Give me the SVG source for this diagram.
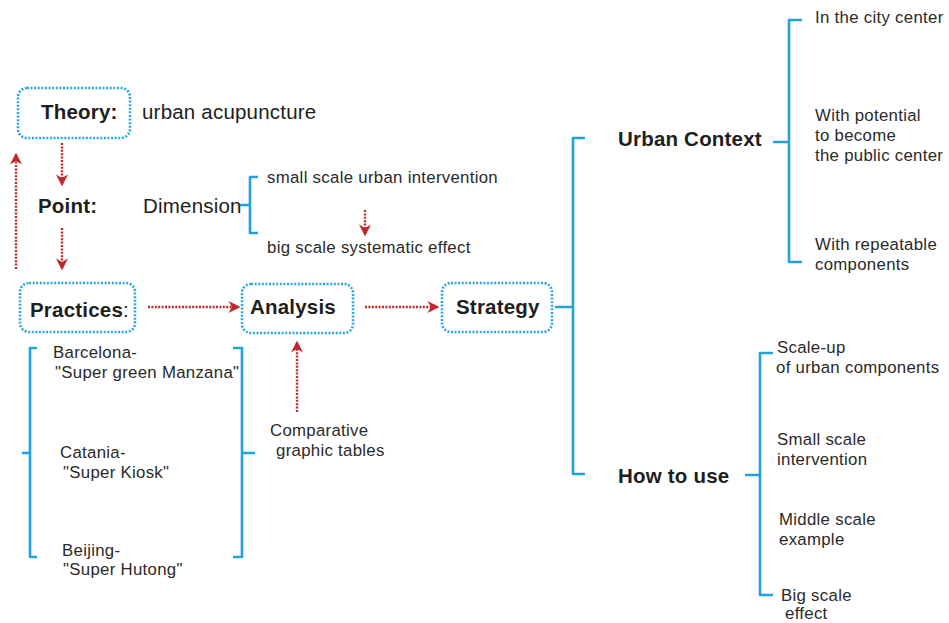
<svg xmlns="http://www.w3.org/2000/svg" width="949" height="623" viewBox="0 0 949 623">
  <style>
    .box { fill: none; stroke: #29a9e1; stroke-width: 2.6; stroke-dasharray: 2 1.6; }
    .brace { fill: none; stroke: #1fa2de; stroke-width: 2.6; stroke-linejoin: round; }
    .flow { fill: none; stroke: #c1272d; stroke-width: 2.4; stroke-dasharray: 2 1.4; }
    .t { font-family: "Liberation Sans", Arial, sans-serif; fill: #1e1e1e; }
    .head { font-size: 20.5px; font-weight: bold; letter-spacing: 0.2px; }
    .big { font-size: 20.5px; letter-spacing: 0.2px; }
    .small { font-size: 16.8px; fill: #2a2a2a; letter-spacing: 0.3px; }
  </style>
  <defs>
    <marker id="arrow" viewBox="0 0 10 10" refX="8" refY="5" markerWidth="5" markerHeight="5" orient="auto" markerUnits="strokeWidth">
      <path d="M0,0 L10,5 L0,10 L3,5 z" fill="#c1272d"/>
    </marker>
  </defs>
  <rect width="949" height="623" fill="#ffffff"/>

  <!-- flow arrows -->
  <g id="connectors">
    <line class="flow" x1="62" y1="143" x2="62" y2="184" marker-end="url(#arrow)"/>
    <line class="flow" x1="62" y1="228" x2="62" y2="268" marker-end="url(#arrow)"/>
    <line class="flow" x1="16" y1="269" x2="16" y2="155" marker-end="url(#arrow)"/>
    <line class="flow" x1="148" y1="307" x2="238" y2="307" marker-end="url(#arrow)"/>
    <line class="flow" x1="365" y1="307" x2="437" y2="307" marker-end="url(#arrow)"/>
    <line class="flow" x1="365" y1="210" x2="365" y2="234" marker-end="url(#arrow)"/>
    <line class="flow" x1="297" y1="412" x2="297" y2="343" marker-end="url(#arrow)"/>

    <!-- braces -->
    <path class="brace" d="M240,205 H250 M258,177 H250 V233 H258"/>
    <path class="brace" d="M37,348 H30 V557 H37 M30,453 H22"/>
    <path class="brace" d="M233,348 H242 V557 H233 M242,453 H255"/>
    <path class="brace" d="M555,307 H573 M585,138 H573 V474 H585"/>
    <path class="brace" d="M773,142 H789 M802,20 H789 V262 H802"/>
    <path class="brace" d="M745,475 H760 M773,353 H760 V595 H773"/>
  </g>

  <g id="theory">
    <rect class="box" x="18" y="88" width="112" height="50" rx="9"/>
    <text class="t head" x="41" y="119">Theory:</text>
    <text class="t big" x="142" y="119">urban acupuncture</text>
  </g>

  <g id="point">
    <text class="t head" x="38" y="213">Point:</text>
    <text class="t big" x="143" y="213">Dimension</text>
    <text class="t small" x="267" y="183">small scale urban intervention</text>
    <text class="t small" x="267" y="253">big scale systematic effect</text>
  </g>

  <g id="practices">
    <rect class="box" x="20" y="283" width="115" height="49" rx="9"/>
    <text class="t head" x="30" y="317">Practices<tspan font-weight="normal">:</tspan></text>
  </g>

  <g id="cases">
    <text class="t small" x="53" y="358">Barcelona-</text>
    <text class="t small" x="55" y="378">"Super green Manzana"</text>
    <text class="t small" x="60" y="458">Catania-</text>
    <text class="t small" x="63" y="478">"Super Kiosk"</text>
    <text class="t small" x="62" y="556">Beijing-</text>
    <text class="t small" x="63" y="575">"Super Hutong"</text>
  </g>

  <g id="analysis">
    <rect class="box" x="242" y="284" width="111" height="49" rx="9"/>
    <text class="t head" x="250" y="314">Analysis</text>
  </g>

  <g id="tables">
    <text class="t small" x="270" y="436">Comparative</text>
    <text class="t small" x="276" y="456">graphic tables</text>
  </g>

  <g id="strategy">
    <rect class="box" x="442" y="283" width="110" height="49" rx="9"/>
    <text class="t head" x="456" y="314">Strategy</text>
  </g>

  <g id="urban-context">
    <text class="t head" x="618" y="146">Urban Context</text>
    <text class="t small" x="815" y="23">In the city center</text>
    <text class="t small" x="815" y="121">With potential</text>
    <text class="t small" x="815" y="141">to become</text>
    <text class="t small" x="815" y="161">the public center</text>
    <text class="t small" x="815" y="250">With repeatable</text>
    <text class="t small" x="815" y="270">components</text>
  </g>

  <g id="how-to-use">
    <text class="t head" x="618" y="483">How to use</text>
    <text class="t small" x="777" y="353">Scale-up</text>
    <text class="t small" x="776" y="373">of urban components</text>
    <text class="t small" x="777" y="445">Small scale</text>
    <text class="t small" x="777" y="465">intervention</text>
    <text class="t small" x="779" y="525">Middle scale</text>
    <text class="t small" x="779" y="545">example</text>
    <text class="t small" x="781" y="601">Big scale</text>
    <text class="t small" x="785" y="619">effect</text>
  </g>
</svg>
